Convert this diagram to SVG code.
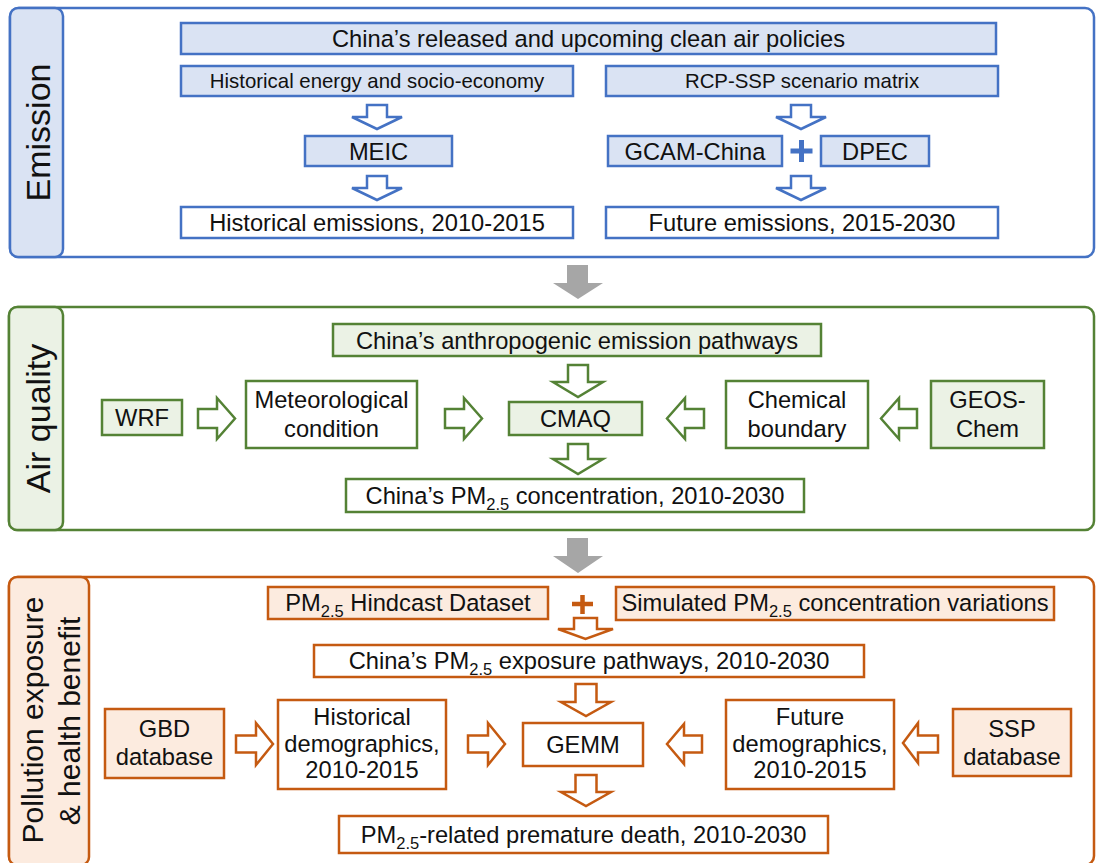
<svg xmlns="http://www.w3.org/2000/svg" width="1096" height="863" viewBox="0 0 1096 863">
<style>
text{font-family:"Liberation Sans",Arial,sans-serif;fill:#111;text-anchor:middle;font-size:23.7px}
.sm{font-size:20.4px}
.side{font-size:34px}
.side2{font-size:30px}
.bl{fill:#dae3f3;stroke:#4472c4;stroke-width:2.5}
.bw{fill:#fff;stroke:#4472c4;stroke-width:2.5}
.gl{fill:#ebf2e5;stroke:#548235;stroke-width:2.5}
.gw{fill:#fff;stroke:#548235;stroke-width:2.5}
.ol{fill:#fcebdf;stroke:#c55a11;stroke-width:2.5}
.ow{fill:#fff;stroke:#c55a11;stroke-width:2.5}
.outb{fill:#fff;stroke:#4472c4;stroke-width:2.5}
.outg{fill:#fff;stroke:#548235;stroke-width:2.5}
.outo{fill:#fff;stroke:#c55a11;stroke-width:2.5}
.ab{fill:#fff;stroke:#4472c4;stroke-width:2.5}
.ag{fill:#fff;stroke:#548235;stroke-width:2.5}
.ao{fill:#fff;stroke:#c55a11;stroke-width:2.5}
.gray{fill:#a6a6a6}
</style>
<rect width="1096" height="863" fill="#fff"/>

<g id="emission-section">
<rect class="outb" x="10" y="8" width="1084" height="249" rx="9"/>
<rect class="bl" x="10" y="8" width="53" height="249" rx="8"/>
<text class="side" transform="translate(50,132.5) rotate(-90)">Emission</text>
</g>
<g id="policies"><rect class="bl" x="181" y="23" width="815" height="31"/><text x="588.5" y="47">China’s released and upcoming clean air policies</text></g>
<g id="hist-energy"><rect class="bl" x="181" y="66" width="392" height="30"/><text class="sm" x="377" y="88">Historical energy and socio-economy</text></g>
<g id="rcp-ssp"><rect class="bl" x="606" y="66" width="392" height="30"/><text class="sm" x="802" y="88">RCP-SSP scenario matrix</text></g>
<g id="meic"><rect class="bl" x="305" y="136" width="147" height="30"/><text x="378.5" y="159.5">MEIC</text></g>
<g id="gcam"><rect class="bl" x="608" y="136" width="174" height="30"/><text x="695" y="159.5">GCAM-China</text></g>
<g id="dpec"><rect class="bl" x="821" y="136" width="108" height="30"/><text x="875" y="159.5">DPEC</text></g>
<g id="hist-emis"><rect class="bw" x="181" y="207" width="392" height="31"/><text x="377" y="231">Historical emissions, 2010-2015</text></g>
<g id="future-emis"><rect class="bw" x="606" y="207" width="392" height="31"/><text x="802" y="231">Future emissions, 2015-2030</text></g>

<g id="airquality-section">
<rect class="outg" x="9" y="307" width="1085" height="223" rx="9"/>
<rect class="gl" x="9" y="307" width="54" height="223" rx="8"/>
<text class="side" transform="translate(50,418.5) rotate(-90)">Air quality</text>
</g>
<g id="anthro"><rect class="gl" x="333" y="324" width="488" height="32"/><text x="577" y="348.5">China’s anthropogenic emission pathways</text></g>
<g id="wrf"><rect class="gl" x="102" y="400" width="80" height="35"/><text x="142" y="426">WRF</text></g>
<g id="meteo"><rect class="gw" x="246" y="381" width="171" height="67"/><text x="331.5" y="408">Meteorological</text><text x="331.5" y="437">condition</text></g>
<g id="cmaq"><rect class="gl" x="509" y="402" width="133" height="33"/><text x="575.5" y="427">CMAQ</text></g>
<g id="chem-bound"><rect class="gw" x="726" y="381" width="142" height="67"/><text x="797" y="408">Chemical</text><text x="797" y="437">boundary</text></g>
<g id="geos"><rect class="gl" x="931" y="381" width="113" height="67"/><text x="987.5" y="408">GEOS-</text><text x="987.5" y="437">Chem</text></g>
<g id="pm-conc"><rect class="gw" x="346" y="479" width="458" height="33"/><text x="575" y="504">China’s PM<tspan font-size="16.5" dy="6">2.5</tspan><tspan dy="-6"> concentration, 2010-2030</tspan></text></g>

<g id="health-section">
<rect class="outo" x="9" y="577" width="1085" height="288" rx="9"/>
<rect class="ol" x="9" y="577" width="80" height="288" rx="8"/>
<text class="side2" transform="translate(43,720) rotate(-90)">Pollution exposure</text>
<text class="side2" transform="translate(80,721) rotate(-90)">&amp; health benefit</text>
</g>
<g id="hindcast"><rect class="ol" x="268" y="587" width="280" height="32"/><text x="408" y="611">PM<tspan font-size="16.5" dy="6">2.5</tspan><tspan dy="-6"> Hindcast Dataset</tspan></text></g>
<g id="simulated"><rect class="ol" x="616" y="587" width="438" height="33"/><text x="835" y="611">Simulated PM<tspan font-size="16.5" dy="6">2.5</tspan><tspan dy="-6">  concentration variations</tspan></text></g>
<g id="exposure"><rect class="ow" x="314" y="645" width="550" height="32"/><text x="589" y="669">China’s PM<tspan font-size="16.5" dy="6">2.5</tspan><tspan dy="-6"> exposure pathways, 2010-2030</tspan></text></g>
<g id="gbd"><rect class="ol" x="105" y="709" width="119" height="69"/><text x="164.5" y="737">GBD</text><text x="164.5" y="765">database</text></g>
<g id="hist-demo"><rect class="ow" x="278" y="700" width="168" height="89"/><text x="362" y="725">Historical</text><text x="362" y="752">demographics,</text><text x="362" y="778">2010-2015</text></g>
<g id="gemm"><rect class="ow" x="523" y="723" width="120" height="43"/><text x="583" y="753">GEMM</text></g>
<g id="future-demo"><rect class="ow" x="726" y="700" width="168" height="89"/><text x="810" y="725">Future</text><text x="810" y="752">demographics,</text><text x="810" y="778">2010-2015</text></g>
<g id="ssp"><rect class="ol" x="953" y="709" width="118" height="67"/><text x="1012" y="737">SSP</text><text x="1012" y="765">database</text></g>
<g id="death"><rect class="ow" x="339" y="816" width="489" height="37"/><text x="583.5" y="843">PM<tspan font-size="16.5" dy="6">2.5</tspan><tspan dy="-6">-related premature death, 2010-2030</tspan></text></g>

<g id="connectors">
<path class="ab" d="M367 105 H387 V117 H402 L377 129 L352 117 H367 Z"/>
<path class="ab" d="M367 176 H387 V188 H402 L377 200 L352 188 H367 Z"/>
<path class="ab" d="M791 105 H811 V117 H826 L801 129 L776 117 H791 Z"/>
<path class="ab" d="M791 176 H811 V188 H826 L801 200 L776 188 H791 Z"/>
<path d="M790.5 151 H812.5 M801.5 140 V162" stroke="#4472c4" stroke-width="5" fill="none"/>
<path class="gray" d="M567 265 H588 V283 H603 L578 299 L553 283 H567 Z"/>
<path class="ag" d="M568 365 H588 V382 H603 L578 397 L553 382 H568 Z"/>
<path class="ag" d="M568 444 H588 V459 H603 L578 474 L553 459 H568 Z"/>
<path class="ag" d="M198 409 H217 V398 L235 418.5 L217 439 V428 H198 Z"/>
<path class="ag" d="M445 409 H464 V398 L482 418.5 L464 439 V428 H445 Z"/>
<path class="ag" d="M704 409 H685 V398 L667 418.5 L685 439 V428 H704 Z"/>
<path class="ag" d="M917 409 H899 V398 L881 418.5 L899 439 V428 H917 Z"/>
<path class="gray" d="M567 538 H588 V556 H603 L578 573 L553 556 H567 Z"/>
<path d="M572 604 H593 M582.5 595 V614" stroke="#c55a11" stroke-width="4.5" fill="none"/>
<path class="ao" d="M574 618 H597 V629 H613 L585.5 639 L558 629 H574 Z"/>
<path class="ao" d="M575.5 684 H596.5 V702 H611 L586 716 L561 702 H575.5 Z"/>
<path class="ao" d="M575.5 775 H596.5 V792 H611 L586 806 L561 792 H575.5 Z"/>
<path class="ao" d="M236 735.5 H256 V723 L273 744 L256 765 V752.5 H236 Z"/>
<path class="ao" d="M468 735.5 H488 V723 L505 744 L488 765 V752.5 H468 Z"/>
<path class="ao" d="M702 735.5 H684 V724 L667 744 L684 764 V752.5 H702 Z"/>
<path class="ao" d="M938 735.5 H918 V723 L903 743 L918 763 V752.5 H938 Z"/>
</g>
</svg>
